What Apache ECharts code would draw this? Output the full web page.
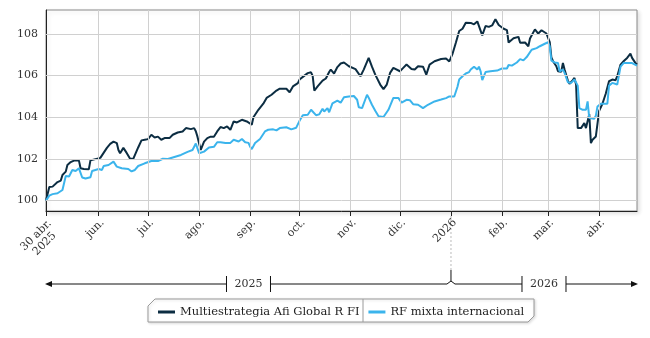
<!DOCTYPE html>
<html>
<head>
<meta charset="utf-8">
<script src="https://cdn.jsdelivr.net/npm/echarts@6/dist/echarts.min.js"></script>
<style>
  html, body { margin: 0; padding: 0; background: #ffffff; }
  #chart { width: 650px; height: 338px; }
</style>
</head>
<body>
<div id="chart"></div>
<script>
// Multiestrategia Afi Global R FI (base 100 on 30 Apr 2025)
const afiDates = [
  '2025-04-30','2025-05-02','2025-05-04','2025-05-05','2025-05-07','2025-05-09','2025-05-10','2025-05-12','2025-05-13','2025-05-15',
  '2025-05-17','2025-05-20','2025-05-21','2025-05-23','2025-05-26','2025-05-27','2025-05-30','2025-06-02','2025-06-04','2025-06-06',
  '2025-06-08','2025-06-10','2025-06-12','2025-06-13','2025-06-14','2025-06-16','2025-06-18','2025-06-20','2025-06-22','2025-06-23',
  '2025-06-25','2025-06-27','2025-06-29','2025-07-01','2025-07-03','2025-07-05','2025-07-07','2025-07-09','2025-07-11','2025-07-14',
  '2025-07-16','2025-07-19','2025-07-22','2025-07-24','2025-07-27','2025-07-29','2025-07-30','2025-07-31','2025-08-02','2025-08-04',
  '2025-08-06','2025-08-08','2025-08-10','2025-08-12','2025-08-14','2025-08-16','2025-08-18','2025-08-20','2025-08-22','2025-08-24',
  '2025-08-27','2025-08-30','2025-09-02','2025-09-03','2025-09-06','2025-09-09','2025-09-11','2025-09-14','2025-09-17','2025-09-19',
  '2025-09-23','2025-09-25','2025-09-27','2025-09-30','2025-10-01','2025-10-04','2025-10-06','2025-10-08','2025-10-09','2025-10-10',
  '2025-10-12','2025-10-15','2025-10-17','2025-10-19','2025-10-20','2025-10-22','2025-10-24','2025-10-26','2025-10-28','2025-10-31',
  '2025-11-04','2025-11-05','2025-11-07','2025-11-09','2025-11-12','2025-11-14','2025-11-16','2025-11-19','2025-11-21','2025-11-23',
  '2025-11-25','2025-11-27','2025-12-01','2025-12-03','2025-12-05','2025-12-08','2025-12-10','2025-12-12','2025-12-15','2025-12-17',
  '2025-12-19','2025-12-22','2025-12-26','2025-12-29','2025-12-31','2026-01-02','2026-01-04','2026-01-06','2026-01-08','2026-01-10',
  '2026-01-11','2026-01-13','2026-01-15','2026-01-17','2026-01-20','2026-01-22','2026-01-24','2026-01-26','2026-01-28','2026-01-30',
  '2026-02-02','2026-02-04','2026-02-05','2026-02-08','2026-02-11','2026-02-12','2026-02-15','2026-02-17','2026-02-18','2026-02-21',
  '2026-02-23','2026-02-25','2026-02-28','2026-03-02','2026-03-03','2026-03-04','2026-03-06','2026-03-07','2026-03-09','2026-03-10',
  '2026-03-11','2026-03-13','2026-03-14','2026-03-16','2026-03-17','2026-03-18','2026-03-19','2026-03-21','2026-03-23','2026-03-24',
  '2026-03-26','2026-03-27','2026-03-28','2026-03-30','2026-04-01','2026-04-03','2026-04-05','2026-04-07','2026-04-09','2026-04-11',
  '2026-04-12','2026-04-14','2026-04-16','2026-04-18','2026-04-20','2026-04-21','2026-04-22','2026-04-23','2026-04-24'
];
const afiValues = [
  100.00,100.65,100.67,100.70,100.89,100.96,101.23,101.39,101.71,101.85,
  101.92,101.92,101.55,101.52,101.50,101.93,101.99,102.05,102.29,102.53,
  102.72,102.83,102.76,102.43,102.27,102.53,102.29,102.02,102.00,102.07,
  102.55,102.89,102.92,102.95,103.16,103.03,103.07,102.92,103.00,103.00,
  103.16,103.27,103.32,103.48,103.43,103.48,103.33,103.07,102.43,102.83,
  103.00,103.07,103.06,103.32,103.53,103.48,103.56,103.40,103.80,103.75,
  103.88,103.80,103.64,104.00,104.36,104.65,104.93,105.08,105.28,105.37,
  105.37,105.20,105.48,105.64,105.81,106.00,106.12,106.16,105.97,105.28,
  105.48,105.76,105.86,106.17,106.29,106.10,106.41,106.58,106.63,106.45,
  106.31,106.22,105.97,106.29,106.85,106.43,106.05,105.57,105.35,105.57,
  106.13,106.37,106.21,106.37,106.53,106.32,106.29,106.45,106.43,106.05,
  106.53,106.69,106.80,106.82,106.68,107.06,107.59,108.14,108.25,108.54,
  108.63,108.53,108.46,108.60,107.93,108.38,108.34,108.41,108.71,108.43,
  108.25,108.18,107.59,107.79,107.86,107.58,107.59,107.41,107.78,108.22,
  108.02,108.18,108.02,107.61,106.87,106.69,106.45,106.21,106.19,106.61,
  106.29,105.76,105.61,105.78,105.89,105.57,103.48,103.48,103.72,103.48,
  104.15,102.76,102.92,103.08,104.31,104.65,105.13,105.73,105.81,105.78,
  105.97,106.53,106.70,106.85,107.06,106.85,106.93,106.61,106.53
];

// RF mixta internacional (category average, base 100)
const rfDates = [
  '2025-04-30','2025-05-02','2025-05-04','2025-05-07','2025-05-10','2025-05-11','2025-05-12','2025-05-14','2025-05-16','2025-05-18',
  '2025-05-20','2025-05-22','2025-05-24','2025-05-27','2025-05-28','2025-06-01','2025-06-03','2025-06-04','2025-06-07','2025-06-10',
  '2025-06-12','2025-06-15','2025-06-19','2025-06-21','2025-06-23','2025-06-25','2025-06-29','2025-07-03','2025-07-07','2025-07-10',
  '2025-07-13','2025-07-18','2025-07-21','2025-07-25','2025-07-28','2025-07-30','2025-07-31','2025-08-01','2025-08-04','2025-08-07',
  '2025-08-10','2025-08-12','2025-08-14','2025-08-17','2025-08-20','2025-08-22','2025-08-25','2025-08-27','2025-08-29','2025-08-31',
  '2025-09-01','2025-09-02','2025-09-04','2025-09-07','2025-09-10','2025-09-12','2025-09-15','2025-09-17','2025-09-19','2025-09-23',
  '2025-09-26','2025-09-29','2025-10-01','2025-10-03','2025-10-06','2025-10-08','2025-10-09','2025-10-11','2025-10-13','2025-10-15',
  '2025-10-16','2025-10-18','2025-10-19','2025-10-21','2025-10-24','2025-10-26','2025-10-28','2025-10-31','2025-11-03','2025-11-05',
  '2025-11-06','2025-11-08','2025-11-11','2025-11-12','2025-11-14','2025-11-16','2025-11-18','2025-11-21','2025-11-22','2025-11-24',
  '2025-11-27','2025-11-30','2025-12-02','2025-12-05','2025-12-07','2025-12-09','2025-12-12','2025-12-15','2025-12-18','2025-12-22',
  '2025-12-26','2025-12-29','2025-12-31','2026-01-03','2026-01-04','2026-01-05','2026-01-06','2026-01-08','2026-01-10','2026-01-12',
  '2026-01-13','2026-01-15','2026-01-17','2026-01-18','2026-01-19','2026-01-20','2026-01-22','2026-01-25','2026-01-29','2026-02-01',
  '2026-02-04','2026-02-05','2026-02-07','2026-02-10','2026-02-12','2026-02-14','2026-02-16','2026-02-19','2026-02-22','2026-02-24',
  '2026-02-27','2026-03-01','2026-03-02','2026-03-03','2026-03-05','2026-03-07','2026-03-08','2026-03-10','2026-03-11','2026-03-13',
  '2026-03-15','2026-03-17','2026-03-19','2026-03-20','2026-03-22','2026-03-24','2026-03-25','2026-03-26','2026-03-29','2026-03-30',
  '2026-03-31','2026-04-02','2026-04-06','2026-04-07','2026-04-09','2026-04-12','2026-04-14','2026-04-16','2026-04-18','2026-04-21',
  '2026-04-22','2026-04-24'
];
const rfValues = [
  100.00,100.24,100.31,100.35,100.51,100.59,101.18,101.16,101.47,101.42,
  101.55,101.11,101.06,101.12,101.42,101.52,101.47,101.66,101.71,101.87,
  101.63,101.55,101.52,101.40,101.47,101.66,101.79,101.90,101.90,102.01,
  102.00,102.12,102.19,102.34,102.43,102.74,102.74,102.27,102.35,102.55,
  102.58,102.80,102.80,102.76,102.77,102.92,102.84,102.96,102.80,102.77,
  102.59,102.47,102.76,102.96,103.32,103.40,103.42,103.37,103.48,103.52,
  103.42,103.50,103.83,104.10,104.12,104.36,104.44,104.10,104.14,104.41,
  104.28,104.44,104.24,104.67,104.80,104.70,104.96,105.00,105.02,104.84,
  104.48,104.44,105.08,104.94,104.60,104.31,104.05,104.01,104.01,104.36,
  104.93,104.93,104.70,104.84,104.82,104.63,104.60,104.44,104.60,104.76,
  104.85,104.92,105.00,105.00,105.24,105.48,105.81,105.97,106.10,106.17,
  106.29,106.43,106.29,106.43,106.21,105.78,106.17,106.21,106.24,106.34,
  106.34,106.51,106.48,106.63,106.79,106.73,106.89,107.24,107.32,107.41,
  107.53,107.60,107.40,106.72,106.63,106.61,106.21,106.29,106.13,105.68,
  105.65,105.81,105.52,104.44,104.36,104.36,104.76,103.96,103.93,104.07,
  104.52,104.65,104.65,105.52,105.65,105.57,106.43,106.61,106.61,106.60,
  106.53,106.48
];

const seriesNames = ['Multiestrategia Afi Global R FI', 'RF mixta internacional'];
const seriesColors = ['#0c2d42', '#3bb4ec'];

// x axis ticks and their labels
const tickDates = ['2025-04-30','2025-06-01','2025-07-01','2025-08-01','2025-09-01','2025-10-01',
                   '2025-11-01','2025-12-01','2026-01-01','2026-02-01','2026-03-01','2026-04-01'];
const tickLabels = ['30 abr.\n2025','jun.','jul.','ago.','sep.','oct.','nov.','dic.','2026','feb.','mar.','abr.'];

// y axis labelled values
const yTicks = [100, 102, 104, 106, 108];

// year band underneath the axis
const yearLabels = ['2025', '2026'];
const yearStarts = ['2025-04-30', '2026-01-01'];

const FONT = "'DejaVu Serif', 'Liberation Serif', serif";
const TEXT = '#333333';

function toTime(s) {
  const p = s.split('-').map(Number);
  return new Date(p[0], p[1] - 1, p[2]).getTime();
}
function pairs(dates, values) {
  return dates.map((d, i) => [toTime(d), values[i]]);
}

const tickTimes = tickDates.map(toTime);
const tStart = toTime(afiDates[0]);
const tEnd = toTime(afiDates[afiDates.length - 1]);

const chart = echarts.init(document.getElementById('chart'), null, { renderer: 'canvas' });

chart.setOption({
  animation: false,
  backgroundColor: '#ffffff',
  grid: {
    left: 46, right: 13, top: 10, bottom: 127,
    show: true, backgroundColor: '#ffffff',
    borderColor: '#8a8a8a', borderWidth: 1,
    shadowColor: 'rgba(0,0,0,0.12)', shadowBlur: 4, shadowOffsetX: 2, shadowOffsetY: 2
  },
  legend: {
    data: seriesNames,
    left: 153, top: 301,
    icon: 'rect', itemWidth: 17, itemHeight: 3, itemGap: 9,
    textStyle: { fontFamily: FONT, fontSize: 11.5, color: '#222222' }
  },
  xAxis: {
    // dates as millisecond timestamps on a linear scale
    type: 'value',
    min: tStart, max: tEnd,
    axisLine: { show: true, lineStyle: { color: '#222222', width: 1 } },
    axisTick: { show: true, customValues: tickTimes, length: 5, lineStyle: { color: '#222222' } },
    splitLine: { show: false },
    axisLabel: {
      customValues: tickTimes,
      rotate: 45,
      margin: 6,
      verticalAlign: 'top',
      fontFamily: FONT, fontSize: 11, color: TEXT,
      formatter: function (v) {
        const i = tickTimes.indexOf(v);
        if (i < 0) return '';
        const lbl = tickLabels[i];
        if (lbl.indexOf('\n') >= 0) {
          return lbl.split('\n').map(s => '{c|' + s + '}').join('\n');
        }
        return lbl;
      },
      rich: {
        c: { width: 40, align: 'center', fontFamily: FONT, fontSize: 11, color: TEXT, lineHeight: 12 }
      }
    }
  },
  yAxis: {
    type: 'value',
    min: 99.5, max: 109.15,
    axisLine: { show: true, lineStyle: { color: '#222222', width: 1 } },
    axisTick: { show: false },
    splitLine: { show: false },
    axisLabel: {
      customValues: yTicks,
      margin: 8,
      fontFamily: FONT, fontSize: 11, color: TEXT
    }
  },
  series: [
    {
      // grid lines at the labelled values
      type: 'line',
      data: [],
      z: 1,
      silent: true,
      markLine: {
        silent: true,
        symbol: 'none',
        label: { show: false },
        animation: false,
        lineStyle: { color: '#d0d0d0', width: 1, type: 'solid' },
        data: yTicks.map(v => ({ yAxis: v })).concat(tickTimes.slice(1).map(t => ({ xAxis: t })))
      }
    },
    {
      name: seriesNames[0],
      type: 'line',
      z: 3,
      showSymbol: false,
      color: seriesColors[0],
      lineStyle: { width: 2, color: seriesColors[0] },
      data: pairs(afiDates, afiValues)
    },
    {
      name: seriesNames[1],
      type: 'line',
      z: 4,
      showSymbol: false,
      color: seriesColors[1],
      lineStyle: { width: 2, color: seriesColors[1] },
      data: pairs(rfDates, rfValues)
    }
  ]
});

// Year band, separator at the turn of the year and legend frame
function drawDecorations() {
  const px = t => chart.convertToPixel({ xAxisIndex: 0 }, t);
  const x0 = px(toTime(yearStarts[0]));
  const x1 = px(toTime(yearStarts[1]));
  const x2 = px(tEnd);
  const axisY = chart.convertToPixel({ yAxisIndex: 0 }, 99.5);
  const bandY = 284;
  const half = 22;
  const c0 = (x0 + x1) / 2;
  const c1 = (x1 + x2) / 2;
  const ink = { stroke: '#111111', lineWidth: 1 };
  const els = [];

  // arrows at both ends
  els.push({ type: 'polygon', shape: { points: [[x0 - 1, bandY], [x0 + 6, bandY - 3], [x0 + 6, bandY + 3]] }, style: { fill: '#111111' } });
  els.push({ type: 'polygon', shape: { points: [[x2 + 1, bandY], [x2 - 6, bandY - 3], [x2 - 6, bandY + 3]] }, style: { fill: '#111111' } });

  // band segments
  els.push({ type: 'line', shape: { x1: x0 + 5, y1: bandY, x2: c0 - half, y2: bandY }, style: ink });
  els.push({ type: 'line', shape: { x1: c0 + half, y1: bandY, x2: x1 - 4, y2: bandY }, style: ink });
  els.push({ type: 'polyline', shape: { points: [[x1 - 4, bandY], [x1, bandY - 3], [x1 + 4, bandY]] }, style: { stroke: '#111111', lineWidth: 1, fill: null } });
  els.push({ type: 'line', shape: { x1: x1 + 4, y1: bandY, x2: c1 - half, y2: bandY }, style: ink });
  els.push({ type: 'line', shape: { x1: c1 + half, y1: bandY, x2: x2 - 5, y2: bandY }, style: ink });

  // bars around the year labels
  [c0 - half, c0 + half, c1 - half, c1 + half].forEach(x => {
    els.push({ type: 'line', shape: { x1: x, y1: bandY - 8, x2: x, y2: bandY + 8 }, style: ink });
  });
  [c0, c1].forEach((c, i) => {
    els.push({
      type: 'text',
      style: { text: yearLabels[i], x: c, y: bandY, align: 'center', verticalAlign: 'middle',
               fontFamily: FONT, fontSize: 11, fill: TEXT }
    });
  });

  // turn of the year marker
  els.push({ type: 'line', shape: { x1: x1, y1: axisY + 5, x2: x1, y2: 270 },
             style: { stroke: '#bbbbbb', lineWidth: 1, lineDash: [2, 2] } });
  els.push({ type: 'line', shape: { x1: x1, y1: 270, x2: x1, y2: bandY - 3 }, style: ink });

  // legend frame
  els.push({
    type: 'polygon', z: -1,
    shape: { points: [[148, 306], [155, 299], [534, 299], [534, 316], [528, 322], [148, 322]] },
    style: { fill: '#ffffff', stroke: '#9a9a9a', lineWidth: 1,
             shadowColor: 'rgba(0,0,0,0.15)', shadowBlur: 3, shadowOffsetX: 1, shadowOffsetY: 1 }
  });
  els.push({ type: 'line', z: -1, shape: { x1: 363, y1: 299, x2: 363, y2: 322 },
             style: { stroke: '#9a9a9a', lineWidth: 1 } });

  chart.setOption({ graphic: els.map(e => Object.assign({ silent: true }, e)) });
}
drawDecorations();
</script>
</body>
</html>
